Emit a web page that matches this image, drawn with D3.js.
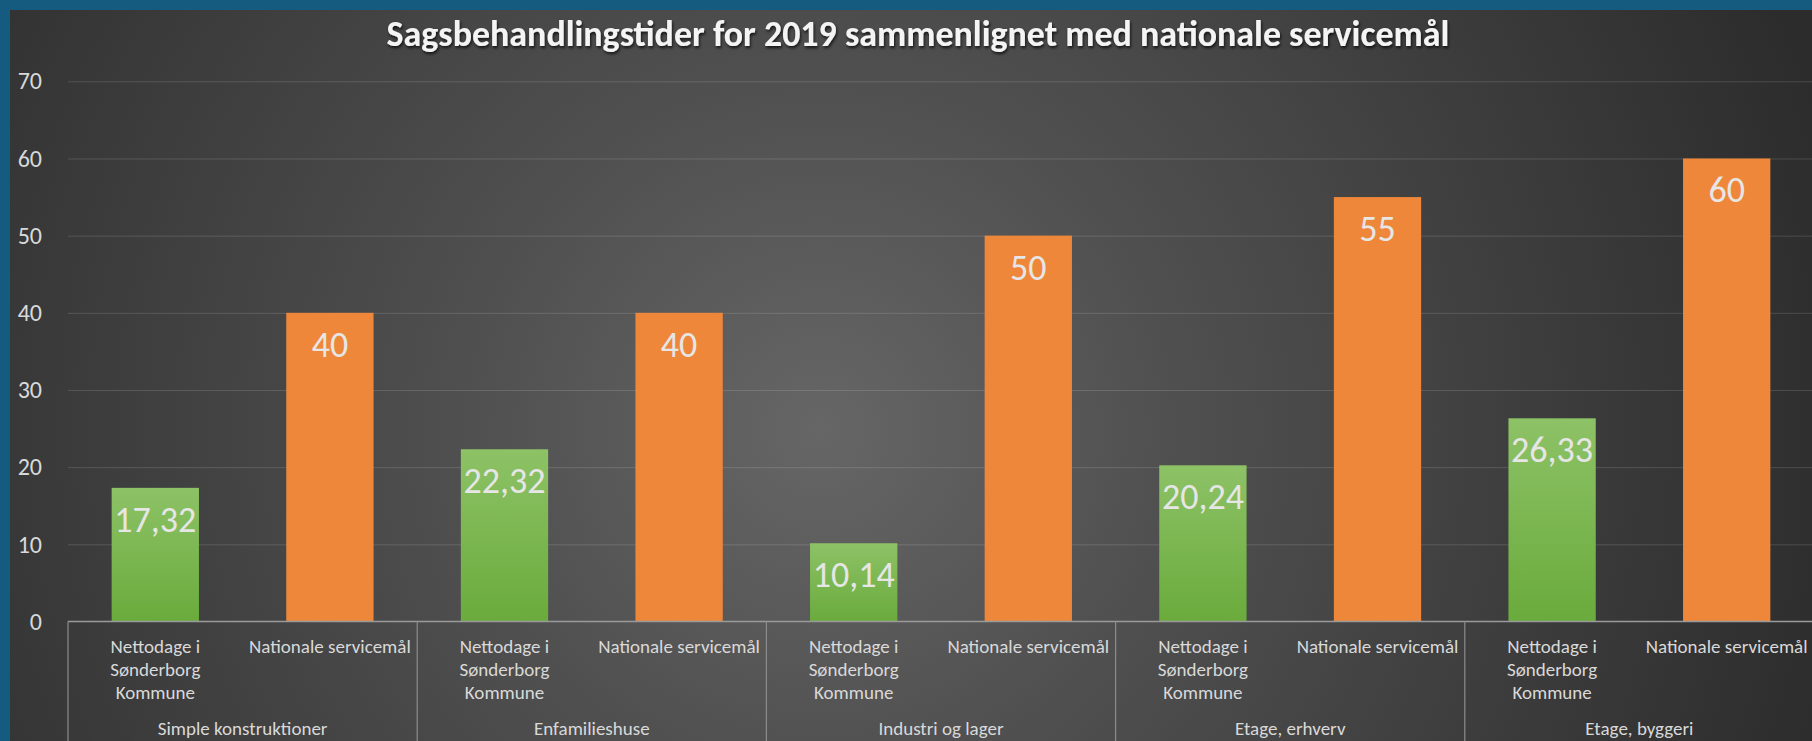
<!DOCTYPE html>
<html>
<head>
<meta charset="utf-8">
<script src="https://cdn.jsdelivr.net/npm/d3@7"></script>
<style>
  html, body { margin: 0; padding: 0; background: #155a7f; overflow: hidden; }
  svg { display: block; }
</style>
</head>
<body>
<script>
// Paramètres de la visualisation
const width = 1812;
const height = 741;
const margin = { top: 81.3, right: -2, bottom: 119.5, left: 68 };
const font = 'Carlito, Calibri, Lato, sans-serif';

// Données
const groups = ['Simple konstruktioner', 'Enfamilieshuse', 'Industri og lager', 'Etage, erhverv', 'Etage, byggeri'];
const series = ['Nettodage i Sønderborg Kommune', 'Nationale servicemål'];
const seriesLines = [['Nettodage i', 'Sønderborg', 'Kommune'], ['Nationale servicemål']];
const nettodage = [17.32, 22.32, 10.14, 20.24, 26.33];
const servicemaal = [40, 40, 50, 55, 60];
const yTicks = [0, 10, 20, 30, 40, 50, 60, 70];
const title = 'Sagsbehandlingstider for 2019 sammenlignet med nationale servicemål';

const rows = groups.flatMap((g, i) => [
  { group: g, serie: series[0], value: nettodage[i] },
  { group: g, serie: series[1], value: servicemaal[i] }
]);

const fmt = d3.formatLocale({ decimal: ',', thousands: '.', grouping: [3], currency: ['', ' kr'] }).format(',~f');

// Créer l'élément SVG
const svg = d3.select('body')
              .append('svg')
              .attr('width', width)
              .attr('height', height);

const defs = svg.append('defs');

const bg = defs.append('radialGradient')
               .attr('id', 'bg')
               .attr('gradientUnits', 'userSpaceOnUse')
               .attr('cx', 820).attr('cy', 430).attr('r', 1050);
bg.append('stop').attr('offset', '0%').attr('stop-color', '#666666');
bg.append('stop').attr('offset', '33%').attr('stop-color', '#505050');
bg.append('stop').attr('offset', '70%').attr('stop-color', '#3c3c3c');
bg.append('stop').attr('offset', '100%').attr('stop-color', '#2c2c2c');

const green = defs.append('linearGradient')
                  .attr('id', 'green')
                  .attr('x1', 0).attr('y1', 0).attr('x2', 0).attr('y2', 1);
green.append('stop').attr('offset', '0%').attr('stop-color', '#8dc266');
green.append('stop').attr('offset', '100%').attr('stop-color', '#6aab3c');

const shadow = defs.append('filter').attr('id', 'shadow')
                   .attr('x', '-5%').attr('y', '-30%').attr('width', '110%').attr('height', '160%');
shadow.append('feDropShadow')
      .attr('dx', 1).attr('dy', 2).attr('stdDeviation', 1.6)
      .attr('flood-color', '#000').attr('flood-opacity', 0.75);

// Fond
svg.append('rect')
   .attr('x', 10).attr('y', 10)
   .attr('width', width - 10).attr('height', height - 10)
   .attr('fill', 'url(#bg)');

// Échelles
const x0 = d3.scaleBand()
             .domain(groups)
             .range([margin.left, width - margin.right]);

const x1 = d3.scaleBand()
             .domain(series)
             .range([0, x0.bandwidth()])
             .paddingInner(0.5)
             .paddingOuter(0.25);

const y = d3.scaleLinear()
            .domain([0, 70])
            .range([height - margin.bottom, margin.top]);

// Grille
svg.append('g')
   .attr('transform', `translate(${margin.left}, 0)`)
   .call(d3.axisLeft(y).tickValues(yTicks.slice(1)).tickSize(-(width - margin.left)).tickFormat(''))
   .call(g => g.select('.domain').remove())
   .call(g => g.selectAll('line').attr('stroke', '#ffffff').attr('stroke-opacity', 0.14));

// Échelle verticale
svg.append('g')
   .attr('transform', 'translate(42, 0)')
   .call(d3.axisLeft(y).tickValues(yTicks).tickSize(0).tickPadding(0))
   .call(g => g.select('.domain').remove())
   .call(g => g.selectAll('text')
               .attr('fill', '#d9d9d9')
               .style('font', `24px ${font}`));

// Barres
svg.append('g')
   .selectAll('rect')
   .data(rows)
   .join('rect')
   .attr('x', d => x0(d.group) + x1(d.serie))
   .attr('y', d => y(d.value))
   .attr('width', x1.bandwidth())
   .attr('height', d => y(0) - y(d.value))
   .attr('fill', d => d.serie === series[0] ? 'url(#green)' : '#ef873a');

// Étiquettes des valeurs
svg.append('g')
   .attr('text-anchor', 'middle')
   .selectAll('text')
   .data(rows)
   .join('text')
   .attr('x', d => x0(d.group) + x1(d.serie) + x1.bandwidth() / 2)
   .attr('y', d => y(d.value) + 44)
   .attr('fill', '#e6e6e6')
   .style('font', `36px ${font}`)
   .text(d => fmt(d.value));

// Axe horizontal et séparateurs
svg.append('line')
   .attr('x1', margin.left).attr('x2', width)
   .attr('y1', y(0)).attr('y2', y(0))
   .attr('stroke', '#9a9a9a').attr('stroke-width', 1.5);

svg.append('g')
   .selectAll('line')
   .data(groups.concat(['end']))
   .join('line')
   .attr('x1', (d, i) => margin.left + i * x0.step())
   .attr('x2', (d, i) => margin.left + i * x0.step())
   .attr('y1', y(0)).attr('y2', height)
   .attr('stroke', '#8c8c8c').attr('stroke-width', 1.2);

// Étiquettes des séries
const cats = svg.append('g')
                .attr('text-anchor', 'middle')
                .attr('fill', '#d9d9d9')
                .style('font', `19px ${font}`);

groups.forEach(g => {
  series.forEach((s, j) => {
    const t = cats.append('text')
                  .attr('x', x0(g) + x1(s) + x1.bandwidth() / 2)
                  .attr('y', 653);
    seriesLines[j].forEach((line, k) => {
      t.append('tspan')
       .attr('x', x0(g) + x1(s) + x1.bandwidth() / 2)
       .attr('dy', k === 0 ? 0 : 23)
       .text(line);
    });
  });
  cats.append('text')
      .attr('x', x0(g) + x0.bandwidth() / 2)
      .attr('y', 735)
      .text(g);
});

// Titre
const titre = svg.append('text')
                 .attr('x', 918)
                 .attr('y', 46)
                 .attr('text-anchor', 'middle')
                 .attr('fill', '#f4f4f4')
                 .attr('filter', 'url(#shadow)')
                 .style('font', `bold 30px ${font}`)
                 .text(title);
const tw = titre.node().getComputedTextLength();
titre.style('font-size', `${30 * 1063 / tw}px`);
</script>
</body>
</html>
